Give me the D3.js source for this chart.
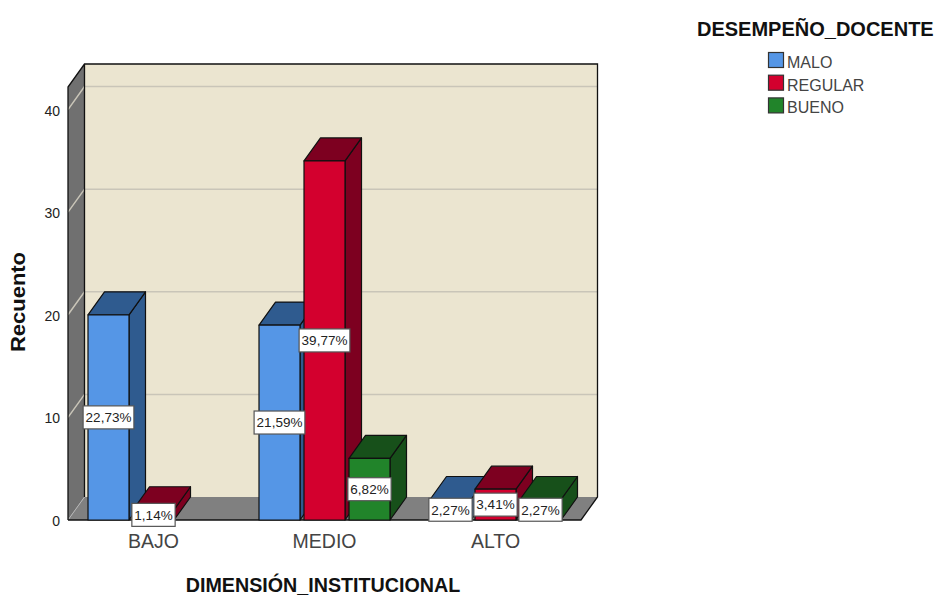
<!DOCTYPE html>
<html>
<head>
<meta charset="utf-8">
<script src="https://cdn.jsdelivr.net/npm/d3@7/dist/d3.min.js"></script>
<style>
  html, body { margin: 0; padding: 0; background: #fff; }
  svg { display: block; font-family: "Liberation Sans", Arial, sans-serif; }
</style>
</head>
<body>
<svg id="chart" width="936" height="597"></svg>
<script>
// Teaching performance counts per institutional dimension level
const categories = ["BAJO", "MEDIO", "ALTO"];
const seriesNames = ["MALO", "REGULAR", "BUENO"];
const maloCounts = [20, 19, 2];
const regularCounts = [1, 35, 3];
const buenoCounts = [0, 6, 2];
const maloLabels = ["22,73%", "21,59%", "2,27%"];
const regularLabels = ["1,14%", "39,77%", "3,41%"];
const buenoLabels = ["", "6,82%", "2,27%"];
const yTicks = [0, 10, 20, 30, 40];
const faceColors = ["#5596e6", "#d3002e", "#21842a"];
const shadeColors = ["#2f5b8f", "#7d0020", "#17501a"];

const svg = d3.select("#chart");

// Oblique projection: depth shifts every back point right and up
const depthX = 16.5, depthY = -23;
const floorY = 520;

const y = d3.scaleLinear().domain([0, 42.2]).range([floorY, 87]);
const x0 = d3.scaleBand().domain(categories).range([68, 581]);
const x1 = d3.scaleBand().domain(seriesNames)
  .range([20, 151]).paddingInner(4 / 45);

const plotLeft = x0.range()[0], plotRight = x0.range()[1], plotTop = y.range()[1];
const poly = pts => pts.map(p => p.join(",")).join(" ");

// Back wall
svg.append("polygon")
  .attr("points", poly([
    [plotLeft + depthX, plotTop + depthY], [plotRight + depthX, plotTop + depthY],
    [plotRight + depthX, floorY + depthY], [plotLeft + depthX, floorY + depthY]]))
  .attr("fill", "#ebe5d0");

// Side wall
svg.append("polygon")
  .attr("points", poly([
    [plotLeft, plotTop], [plotLeft + depthX, plotTop + depthY],
    [plotLeft + depthX, floorY + depthY], [plotLeft, floorY]]))
  .attr("fill", "#707070");

// Floor
svg.append("polygon")
  .attr("points", poly([
    [plotLeft, floorY], [plotLeft + depthX, floorY + depthY],
    [plotRight + depthX, floorY + depthY], [plotRight, floorY]]))
  .attr("fill", "#808080");

// Gridlines along the side wall and the back wall
const gridTicks = yTicks.filter(t => t > 0);
svg.selectAll("path.grid").data(gridTicks).join("path")
  .attr("class", "grid")
  .attr("fill", "none")
  .attr("stroke", "#c9c5b8")
  .attr("stroke-width", 1.5)
  .attr("d", t => `M${plotLeft},${y(t)}L${plotLeft + depthX},${y(t) + depthY}L${plotRight + depthX},${y(t) + depthY}`);
svg.append("path")
  .attr("fill", "none")
  .attr("stroke", "#b5b5b5")
  .attr("d", `M${plotLeft},${floorY}L${plotLeft + depthX},${floorY + depthY}`);

// Frame edges
svg.append("path")
  .attr("fill", "none")
  .attr("stroke", "#111")
  .attr("stroke-width", 1.3)
  .attr("d", `M${plotLeft},${floorY}L${plotLeft},${plotTop}L${plotLeft + depthX},${plotTop + depthY}` +
    `L${plotRight + depthX},${plotTop + depthY}L${plotRight + depthX},${floorY + depthY}L${plotRight},${floorY}L${plotLeft},${floorY}` +
    `M${plotLeft + depthX},${plotTop + depthY}L${plotLeft + depthX},${floorY + depthY}`);

// Bars as three-sided prisms
const countsBySeries = [maloCounts, regularCounts, buenoCounts];
const labelsBySeries = [maloLabels, regularLabels, buenoLabels];
const bars = [];
categories.forEach((cat, c) => {
  seriesNames.forEach((name, s) => {
    bars.push({ cat, name, s, value: countsBySeries[s][c], label: labelsBySeries[s][c] });
  });
});
const drawn = bars.filter(d => d.value > 0);

const barGroups = svg.selectAll("g.bar").data(drawn).join("g")
  .attr("class", "bar")
  .attr("stroke", "#101010")
  .attr("stroke-width", 1.2)
  .attr("stroke-linejoin", "round");

const bx = d => x0(d.cat) + x1(d.name);
const bw = x1.bandwidth();

barGroups.append("polygon")
  .attr("fill", d => shadeColors[d.s])
  .attr("points", d => poly([
    [bx(d) + bw, y(d.value)], [bx(d) + bw + depthX, y(d.value) + depthY],
    [bx(d) + bw + depthX, floorY + depthY], [bx(d) + bw, floorY]]));
barGroups.append("polygon")
  .attr("fill", d => shadeColors[d.s])
  .attr("points", d => poly([
    [bx(d), y(d.value)], [bx(d) + depthX, y(d.value) + depthY],
    [bx(d) + bw + depthX, y(d.value) + depthY], [bx(d) + bw, y(d.value)]]));
barGroups.append("rect")
  .attr("fill", d => faceColors[d.s])
  .attr("x", bx)
  .attr("y", d => y(d.value))
  .attr("width", bw)
  .attr("height", d => floorY - y(d.value));

// Percentage labels centred on each bar's front face
const labels = svg.selectAll("g.value").data(drawn).join("g")
  .attr("class", "value")
  .attr("transform", d => `translate(${bx(d) + bw / 2},${y(d.value / 2)})`);
labels.append("text")
  .attr("text-anchor", "middle")
  .attr("dy", "0.36em")
  .attr("font-size", 13.5)
  .attr("fill", "#222")
  .text(d => d.label);
labels.insert("rect", "text")
  .each(function () {
    const w = this.parentNode.querySelector("text").getComputedTextLength() + 5;
    d3.select(this).attr("x", -w / 2).attr("y", -11.5).attr("width", w).attr("height", 23);
  })
  .attr("fill", "#fff")
  .attr("stroke", "#555")
  .attr("stroke-width", 1.2);

// Value axis
const yAxis = d3.axisLeft(y).tickValues(yTicks).tickSize(0).tickPadding(8);
const yG = svg.append("g").attr("transform", `translate(${plotLeft},1)`).call(yAxis);
yG.select(".domain").remove();
yG.selectAll("text").attr("font-size", 14).attr("font-family", "inherit").attr("fill", "#222");

// Category axis
const xAxis = d3.axisBottom(x0).tickSize(0).tickPadding(14);
const xG = svg.append("g").attr("transform", `translate(0,${floorY})`).call(xAxis);
xG.select(".domain").remove();
xG.selectAll("text").attr("font-size", 19.5).attr("font-family", "inherit").attr("fill", "#444");

// Axis titles
svg.append("text")
  .attr("x", 323).attr("y", 592)
  .attr("text-anchor", "middle")
  .attr("font-size", 19.7).attr("font-weight", "bold").attr("fill", "#111")
  .text("DIMENSIÓN_INSTITUCIONAL");
svg.append("text")
  .attr("transform", "translate(25,302) rotate(-90)")
  .attr("text-anchor", "middle")
  .attr("font-size", 20)
  .attr("textLength", 100).attr("lengthAdjust", "spacingAndGlyphs")
  .attr("font-weight", "bold").attr("fill", "#111")
  .text("Recuento");

// Legend
svg.append("text")
  .attr("x", 697).attr("y", 36)
  .attr("font-size", 20).attr("font-weight", "bold").attr("fill", "#111")
  .text("DESEMPEÑO_DOCENTE");
const legend = svg.selectAll("g.legend").data(seriesNames).join("g")
  .attr("class", "legend")
  .attr("transform", (d, i) => `translate(768,${52 + i * 22.7})`);
legend.append("rect")
  .attr("x", 0.5).attr("y", 0.5).attr("width", 15).attr("height", 15)
  .attr("fill", (d, i) => faceColors[i])
  .attr("stroke", "#333").attr("stroke-width", 1.2);
legend.append("text")
  .attr("x", 19).attr("y", 16)
  .attr("font-size", 16).attr("fill", "#444")
  .text(d => d);
</script>
</body>
</html>
